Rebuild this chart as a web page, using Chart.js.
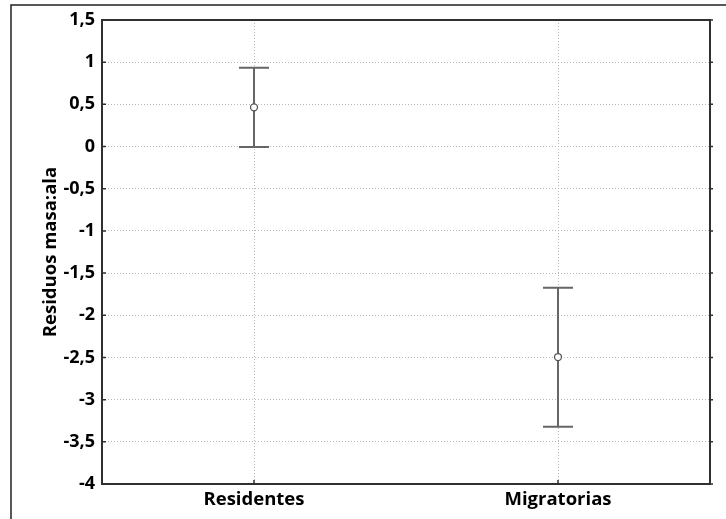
<!DOCTYPE html>
<html>
<head>
<meta charset="utf-8">
<script src="https://cdn.jsdelivr.net/npm/chart.js@4"></script>
<style>
  body { margin: 0; background: #fff; }
  #wrap { position: relative; width: 726px; height: 519px; }
</style>
</head>
<body>
<div id="wrap"><canvas id="myChart" width="726" height="519"></canvas></div>
<script>
const categories = ['Residentes', 'Migratorias'];
const means = [0.465, -2.495];
const lower = [-0.005, -3.32];
const upper = [0.935, -1.675];
const yTicks = [1.5, 1, 0.5, 0, -0.5, -1, -1.5, -2, -2.5, -3, -3.5, -4];

const fontFamily = '"Open Sans", "DejaVu Sans", sans-serif';

// error bars + frame + little tick marks
const whiskers = {
  id: 'whiskers',
  beforeDatasetsDraw(chart) {
    const ctx = chart.ctx;
    const x = chart.scales.x;
    const y = chart.scales.y;
    ctx.save();
    ctx.strokeStyle = '#666';
    ctx.lineWidth = 2;
    categories.forEach((c, i) => {
      const px = x.getPixelForValue(i);
      const top = y.getPixelForValue(upper[i]);
      const bot = y.getPixelForValue(lower[i]);
      ctx.beginPath();
      ctx.moveTo(px, top);
      ctx.lineTo(px, bot);
      ctx.moveTo(px - 15, top);
      ctx.lineTo(px + 15, top);
      ctx.moveTo(px - 15, bot);
      ctx.lineTo(px + 15, bot);
      ctx.stroke();
    });
    ctx.restore();
  },
  afterDraw(chart) {
    const ctx = chart.ctx;
    const a = chart.chartArea;
    const y = chart.scales.y;
    const x = chart.scales.x;
    ctx.save();
    ctx.strokeStyle = '#303030';
    ctx.lineWidth = 2;
    ctx.strokeRect(a.left, a.top, a.right - a.left, a.bottom - a.top);
    ctx.lineWidth = 1.5;
    ctx.beginPath();
    yTicks.forEach((t) => {
      const py = y.getPixelForValue(t);
      ctx.moveTo(a.left, py);
      ctx.lineTo(a.left + 4, py);
      ctx.moveTo(a.right, py);
      ctx.lineTo(a.right + 3, py);
    });
    categories.forEach((c, i) => {
      const px = x.getPixelForValue(i);
      ctx.moveTo(px, a.bottom);
      ctx.lineTo(px, a.bottom - 4);
    });
    ctx.stroke();
    // outer frame
    ctx.strokeStyle = '#222';
    ctx.lineWidth = 1.5;
    ctx.beginPath();
    ctx.moveTo(11, 519);
    ctx.lineTo(11, 5);
    ctx.lineTo(726, 5);
    ctx.stroke();
    ctx.restore();
  }
};

const ctx = document.getElementById('myChart');

const myChart = new Chart(ctx, {
  type: 'line',
  data: {
    labels: categories,
    datasets: [
      {
        data: means,
        showLine: false,
        pointRadius: 3.5,
        pointBorderWidth: 1.3,
        pointBackgroundColor: '#fff',
        pointBorderColor: '#555',
      },
    ],
  },
  plugins: [whiskers],
  options: {
    responsive: false,
    animation: false,
    layout: { padding: { top: 20, right: 16, left: 0, bottom: 0 } },
    plugins: {
      legend: { display: false },
      tooltip: { enabled: false },
    },
    scales: {
      x: {
        type: 'category',
        offset: true,
        border: { display: false, dash: [1, 2] },
        grid: {
          offset: false,
          drawTicks: false,
          color: '#b8b8b8',
          lineWidth: 1,
        },
        ticks: {
          padding: 5,
          color: '#000',
          font: { family: fontFamily, size: 18.5, weight: 'bold' },
        },
        afterFit(scale) {
          scale.height = 35;
        },
      },
      y: {
        min: -4,
        max: 1.5,
        border: { display: false, dash: [1, 2] },
        grid: {
          drawTicks: false,
          color: '#b8b8b8',
          lineWidth: 1,
        },
        ticks: {
          stepSize: 0.5,
          padding: 7,
          color: '#000',
          font: { family: fontFamily, size: 18, weight: 'bold' },
          callback: (v) => String(v).replace('.', ','),
        },
        title: {
          display: true,
          text: 'Residuos masa:ala',
          color: '#000',
          padding: { top: 40, bottom: 0 },
          font: { family: fontFamily, size: 18.5, weight: 'bold' },
        },
        afterFit(scale) {
          scale.width = 102;
        },
      },
    },
  },
});
</script>
</body>
</html>
